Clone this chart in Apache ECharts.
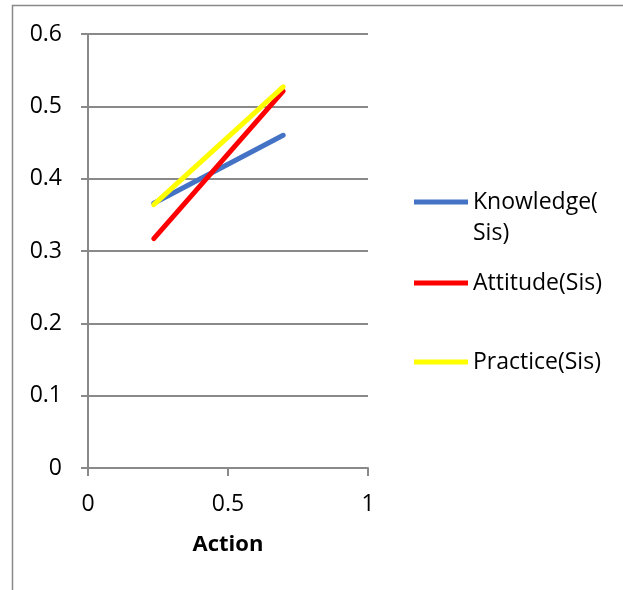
<!DOCTYPE html>
<html>
<head>
<meta charset="utf-8">
<script src="https://cdn.jsdelivr.net/npm/echarts@6/dist/echarts.min.js"></script>
<style>
  html, body { margin: 0; padding: 0; background: #fff; }
  #chart { width: 623px; height: 590px; }
</style>
</head>
<body>
<div id="chart"></div>
<script>
// Sis scores against Action
const seriesNames = ['Knowledge(Sis)', 'Attitude(Sis)', 'Practice(Sis)'];
const actionValues = [0.235, 0.697];
const knowledgeValues = [0.366, 0.460];
const attitudeValues = [0.317, 0.521];
const practiceValues = [0.364, 0.527];
const seriesColors = ['#4472C4', '#FF0000', '#FFFF00'];
const xTicks = [0, 0.5, 1];
const yTicks = [0, 0.1, 0.2, 0.3, 0.4, 0.5, 0.6];

const FONT = 'Open Sans';
const AXIS_GRAY = '#898989';
const LINE_H = 31;

function pairs(ys) {
  return actionValues.map((x, i) => [x, ys[i]]);
}

const valueSets = [knowledgeValues, attitudeValues, practiceValues];

const chart = echarts.init(document.getElementById('chart'), null, { renderer: 'canvas' });

// one legend per entry so each can sit at its own height;
// iconY is the vertical centre of the swatch
function legendFor(name, iconY, label) {
  const lines = label.split('\n').length;
  return {
    data: [name],
    left: 414,
    top: iconY - (lines * LINE_H) / 2,
    padding: 0,
    icon: 'rect',
    itemWidth: 54,
    itemHeight: 5,
    selectedMode: false,
    formatter: () => label,
    textStyle: {
      fontFamily: FONT,
      fontSize: 23,
      color: '#000',
      lineHeight: LINE_H
    }
  };
}

chart.setOption({
  animation: false,
  textStyle: { fontFamily: FONT },
  grid: { left: 88, top: 34, right: 255, bottom: 122, containLabel: false },
  xAxis: {
    type: 'value',
    min: xTicks[0],
    max: xTicks[xTicks.length - 1],
    interval: 0.5,
    name: 'Action',
    nameLocation: 'middle',
    nameGap: 66,
    nameTextStyle: { fontFamily: FONT, fontSize: 22, fontWeight: 'bold', color: '#000' },
    axisLine: { show: true, lineStyle: { color: AXIS_GRAY, width: 2 } },
    axisTick: { show: true, inside: false, length: 8, lineStyle: { color: AXIS_GRAY, width: 2 } },
    axisLabel: { fontFamily: FONT, fontSize: 23, color: '#000', margin: 25 },
    splitLine: { show: false }
  },
  yAxis: {
    type: 'value',
    min: yTicks[0],
    max: yTicks[yTicks.length - 1],
    interval: 0.1,
    axisLine: { show: true, lineStyle: { color: AXIS_GRAY, width: 2 } },
    axisTick: { show: true, inside: false, length: 7, lineStyle: { color: AXIS_GRAY, width: 2 } },
    axisLabel: { fontFamily: FONT, fontSize: 23, color: '#000', margin: 26 },
    splitLine: { show: true, lineStyle: { color: AXIS_GRAY, width: 2 } }
  },
  legend: [
    // leading blank line keeps the swatch level with the first text line
    legendFor(seriesNames[0], 202, '\nKnowledge(\nSis)'),
    legendFor(seriesNames[1], 283, 'Attitude(Sis)'),
    legendFor(seriesNames[2], 362, 'Practice(Sis)')
  ],
  graphic: [{
    type: 'polyline',
    silent: true,
    shape: { points: [[12.5, 590], [12.5, 5.5], [623, 5.5]] },
    style: { stroke: AXIS_GRAY, lineWidth: 1.5, fill: null }
  }],
  series: seriesNames.map((name, i) => ({
    name: name,
    type: 'line',
    data: pairs(valueSets[i]),
    showSymbol: false,
    symbol: 'none',
    color: seriesColors[i],
    lineStyle: { color: seriesColors[i], width: 5, cap: 'round' }
  }))
});
</script>
</body>
</html>
